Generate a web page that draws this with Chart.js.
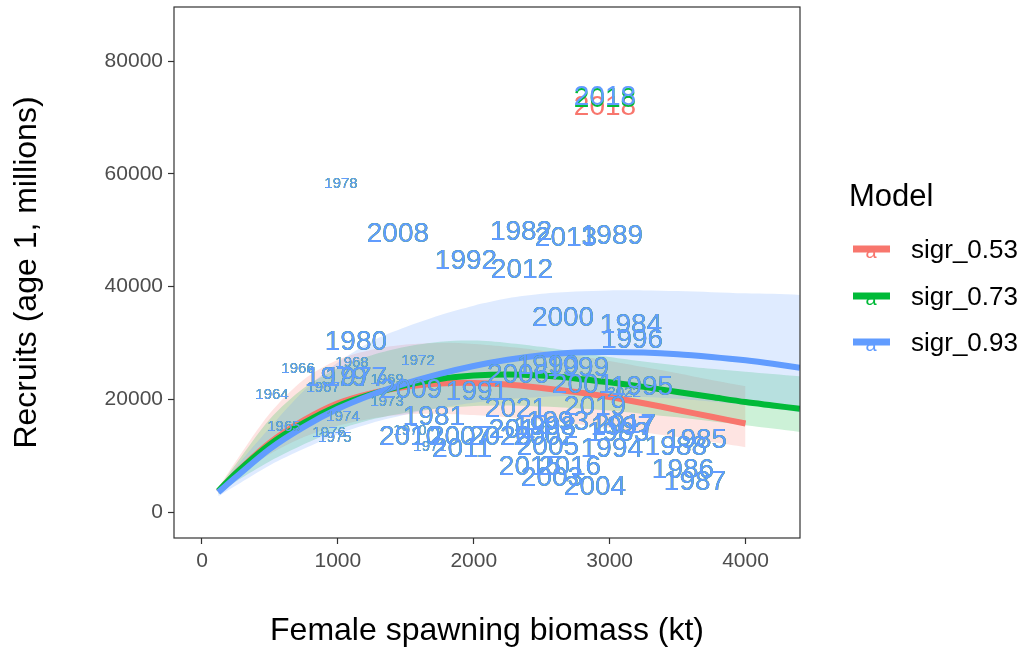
<!DOCTYPE html>
<html>
<head>
<meta charset="utf-8">
<script src="https://cdn.jsdelivr.net/npm/chart.js@4.4.1/dist/chart.umd.min.js"></script>
<style>
  html, body { margin: 0; padding: 0; background: #fff; }
  #wrap { width: 1026px; height: 652px; }
</style>
</head>
<body>
<div id="wrap"><canvas id="c" width="1026" height="652"></canvas></div>
<script>
"use strict";

var FONT = "'Liberation Sans', Arial, sans-serif";

// models (legend order) and ggplot hue colours
var modelNames = ["sigr_0.53", "sigr_0.73", "sigr_0.93"];
var modelColors = ["#F8766D", "#00BA38", "#619CFF"];
var ribbonColors = ["rgba(248,118,109,0.2)", "rgba(0,186,56,0.2)", "rgba(97,156,255,0.2)"];

// axis ticks
var xTicks = [0, 1000, 2000, 3000, 4000];
var yTicks = [0, 20000, 40000, 60000, 80000];

// year labels: spawning biomass (kt) and recruits per model
var years = [1964, 1965, 1966, 1967, 1968, 1969, 1970, 1971, 1972, 1973, 1974, 1975, 1976, 1977, 1978, 1979,
  1980, 1981, 1982, 1983, 1984, 1985, 1986, 1987, 1988, 1989, 1990, 1991, 1992, 1993, 1994, 1995, 1996, 1997,
  1998, 1999, 2000, 2001, 2002, 2003, 2004, 2005, 2006, 2007, 2008, 2009, 2010, 2011, 2012, 2013, 2014, 2015,
  2016, 2017, 2018, 2019, 2020, 2021, 2022];
var smallYears = [1964, 1965, 1966, 1967, 1968, 1969, 1970, 1971, 1972, 1973, 1974, 1975, 1976, 1978, 2022];
var ssb = [515, 603, 707, 891, 1104, 1362, 1531, 1678, 1590, 1362, 1038, 979, 935, 1133, 1023, 986,
  1133, 1707, 2348, 3062, 3157, 3636, 3540, 3628, 3488, 3017, 2546, 2024, 1943, 2620, 3017, 3238, 3165, 3091,
  2524, 2767, 2657, 2804, 2524, 2576, 2892, 2546, 2326, 1899, 1442, 1538, 1531, 1914, 2355, 2679, 2340, 2414,
  2708, 3113, 2966, 2892, 2193, 2311, 3106];
var recBlue = [20750, 15080, 25370, 22000, 26430, 23410, 14370, 11530, 26790, 19510, 16850, 13130, 14010, 23770, 58180, 23770,
  30160, 16850, 49670, 14010, 33170, 12770, 7450, 5320, 11530, 48960, 25900, 21290, 44520, 15960, 11180, 22170, 30510, 15080,
  15080, 25540, 34410, 22530, 13300, 6030, 4430, 11530, 24300, 13300, 49310, 21640, 13300, 11180, 42930, 48600, 14550, 7980,
  7980, 15430, 73610, 18630, 13300, 18270, 21110];
var recGreen = [20750, 15080, 25370, 22000, 26430, 23410, 14370, 11530, 26790, 19510, 16850, 13130, 14010, 23770, 58150, 23770,
  30140, 16850, 49650, 14010, 33150, 12770, 7450, 5320, 11530, 48940, 25900, 21290, 44520, 15960, 11180, 22170, 30490, 15080,
  15080, 25520, 34400, 22530, 13300, 6000, 4430, 11530, 24300, 13300, 49300, 21640, 13300, 11180, 42930, 48600, 14550, 7950,
  7980, 15430, 73260, 18630, 13300, 18270, 21110];
var recRed = [20720, 15060, 25350, 21980, 26400, 23390, 14350, 11510, 26770, 19490, 16830, 13110, 13990, 23750, 58150, 23750,
  30130, 16830, 49640, 13990, 33140, 12750, 7430, 5300, 11510, 48930, 25870, 21270, 44490, 15940, 11160, 22150, 30480, 15060,
  15060, 25510, 34380, 22500, 13280, 6000, 4410, 11510, 24270, 13280, 49280, 21620, 13280, 11160, 42900, 48570, 14530, 7950,
  7950, 15400, 71840, 18600, 13280, 18250, 21090];

// fitted stock-recruit curves and their intervals
var curveSsb = [120, 250, 500, 750, 1000, 1250, 1500, 1750, 2000, 2250, 2500, 2750, 3000, 3250, 3500, 3750, 4000, 4200, 4400];
var lineRed = [3600, 6900, 12300, 16300, 19300, 21100, 22200, 22800, 22900, 22600, 22000, 21300, 20400, 19300, 18100, 16900, 15700];
var lineGreen = [3700, 6900, 12000, 15800, 18800, 20900, 22500, 23600, 24200, 24400, 24200, 23700, 23000, 22200, 21300, 20400, 19500, 18900, 18300];
var lineBlue = [3500, 6200, 11200, 15100, 18300, 20800, 22800, 24500, 25900, 27000, 27800, 28300, 28400, 28300, 28000, 27500, 26900, 26300, 25600];
var upperRed = [4300, 9000, 17500, 23500, 27000, 28800, 29700, 30000, 29800, 29300, 28600, 27700, 26800, 25700, 24600, 23400, 22300];
var lowerRed = [3300, 6000, 10300, 13300, 15300, 16600, 17300, 17400, 17200, 16800, 16200, 15600, 14900, 14100, 13300, 12400, 11500];
var upperGreen = [4200, 8500, 16500, 22000, 25500, 27800, 29300, 30200, 30400, 30000, 29300, 28400, 27500, 26700, 26000, 25400, 24900, 24500, 24100];
var lowerGreen = [3100, 5400, 9000, 12000, 14600, 16400, 17600, 18400, 18800, 18900, 18700, 18400, 18000, 17400, 16800, 16100, 15400, 14800, 14200];
var upperBlue = [4100, 8000, 15000, 21500, 26500, 30300, 32800, 34900, 36600, 37900, 38700, 39100, 39300, 39300, 39200, 39000, 38800, 38700, 38500];
var lowerBlue = [2800, 4700, 8300, 11200, 13800, 15800, 17300, 18500, 19400, 20000, 20400, 20600, 20600, 20400, 20100, 19600, 19000, 18400, 17700];

function pts(xs, ys) {
  return ys.map(function (y, i) { return { x: xs[i], y: y }; });
}

function ribbon(vals, color, fill, order) {
  return {
    data: pts(curveSsb, vals), borderWidth: 0, pointRadius: 0, tension: 0.3,
    backgroundColor: color, borderColor: "rgba(0,0,0,0)", fill: fill, order: order,
  };
}

function fitLine(vals, color, order) {
  return {
    data: pts(curveSsb, vals), borderWidth: 6, borderColor: color, pointRadius: 0,
    tension: 0.3, fill: false, order: order, borderCapStyle: "butt",
  };
}

function labels(recs, color) {
  return {
    data: pts(ssb, recs), showLine: false, pointRadius: 0, isLabels: true,
    textColor: color, order: 0,
  };
}

var yearLabels = {
  id: "yearLabels",
  afterDatasetsDraw: function (chart) {
    var ctx = chart.ctx;
    ctx.save();
    ctx.textAlign = "center";
    ctx.textBaseline = "middle";
    chart.data.datasets.forEach(function (ds, di) {
      if (!ds.isLabels) return;
      ctx.fillStyle = ds.textColor;
      chart.getDatasetMeta(di).data.forEach(function (pt, i) {
        var small = smallYears.indexOf(years[i]) >= 0;
        ctx.font = (small ? 15 : 28) + "px " + FONT;
        ctx.fillText(String(years[i]), pt.x, pt.y);
      });
    });
    ctx.restore();
  },
};

var panelAndLegend = {
  id: "panelAndLegend",
  afterDraw: function (chart) {
    var ctx = chart.ctx, a = chart.chartArea;
    ctx.save();
    ctx.strokeStyle = "#333333";
    ctx.lineWidth = 1.2;
    ctx.strokeRect(a.left, a.top, a.right - a.left, a.bottom - a.top);

    ctx.fillStyle = "#000";
    ctx.textAlign = "left";
    ctx.textBaseline = "middle";
    ctx.font = "31px " + FONT;
    ctx.fillText("Model", 849, 197);
    var keyY = [249, 296, 342];
    modelNames.forEach(function (name, i) {
      ctx.strokeStyle = modelColors[i];
      ctx.lineWidth = 7;
      ctx.beginPath();
      ctx.moveTo(853, keyY[i]);
      ctx.lineTo(890, keyY[i]);
      ctx.stroke();
      ctx.fillStyle = modelColors[i];
      ctx.font = "20px " + FONT;
      ctx.textAlign = "center";
      ctx.fillText("a", 871, keyY[i] + 3);
      ctx.fillStyle = "#000";
      ctx.textAlign = "left";
      ctx.font = "26px " + FONT;
      ctx.fillText(name, 911, keyY[i] + 2);
    });
    ctx.restore();
  },
};

new Chart(document.getElementById("c"), {
  type: "line",
  data: {
    datasets: [
      ribbon(upperRed, ribbonColors[0], "+1", 6),
      ribbon(lowerRed, "rgba(0,0,0,0)", false, 6),
      ribbon(upperGreen, ribbonColors[1], "+1", 5),
      ribbon(lowerGreen, "rgba(0,0,0,0)", false, 5),
      ribbon(upperBlue, ribbonColors[2], "+1", 4),
      ribbon(lowerBlue, "rgba(0,0,0,0)", false, 4),
      fitLine(lineRed, modelColors[0], 3),
      fitLine(lineGreen, modelColors[1], 2),
      fitLine(lineBlue, modelColors[2], 1),
      labels(recRed, modelColors[0]),
      labels(recGreen, modelColors[1]),
      labels(recBlue, modelColors[2]),
    ],
  },
  options: {
    responsive: false,
    animation: false,
    events: [],
    layout: { padding: { top: 7, right: 226, left: 0, bottom: 0 } },
    plugins: { legend: { display: false }, tooltip: { enabled: false } },
    scales: {
      x: {
        type: "linear", min: -206, max: 4401, bounds: "data",
        afterFit: function (s) { s.height = 114; s.paddingLeft = 0; s.paddingRight = 0; },
        afterBuildTicks: function (s) { s.ticks = xTicks.map(function (v) { return { value: v }; }); },
        grid: { drawOnChartArea: false, drawTicks: true, tickLength: 6, tickColor: "#333333", tickWidth: 1.2 },
        border: { display: false },
        ticks: { color: "#4D4D4D", font: { family: FONT, size: 21 }, padding: 5, maxRotation: 0,
          callback: function (v) { return String(v); } },
        title: { display: true, text: "Female spawning biomass (kt)", color: "#000",
          font: { family: FONT, size: 32 }, padding: { top: 0, bottom: 2 } },
      },
      y: {
        type: "linear", min: -4612, max: 89580, bounds: "data",
        afterFit: function (s) { s.width = 174; s.paddingTop = 0; s.paddingBottom = 0; },
        afterBuildTicks: function (s) { s.ticks = yTicks.map(function (v) { return { value: v }; }); },
        grid: { drawOnChartArea: false, drawTicks: true, tickLength: 6, tickColor: "#333333", tickWidth: 1.2 },
        border: { display: false },
        ticks: { color: "#4D4D4D", font: { family: FONT, size: 21 }, padding: 5,
          callback: function (v) { return String(v); } },
        title: { display: true, text: "Recruits (age 1, millions)", color: "#000",
          font: { family: FONT, size: 32 }, padding: { top: 8, bottom: 0 } },
      },
    },
  },
  plugins: [yearLabels, panelAndLegend],
});
</script>
</body>
</html>
